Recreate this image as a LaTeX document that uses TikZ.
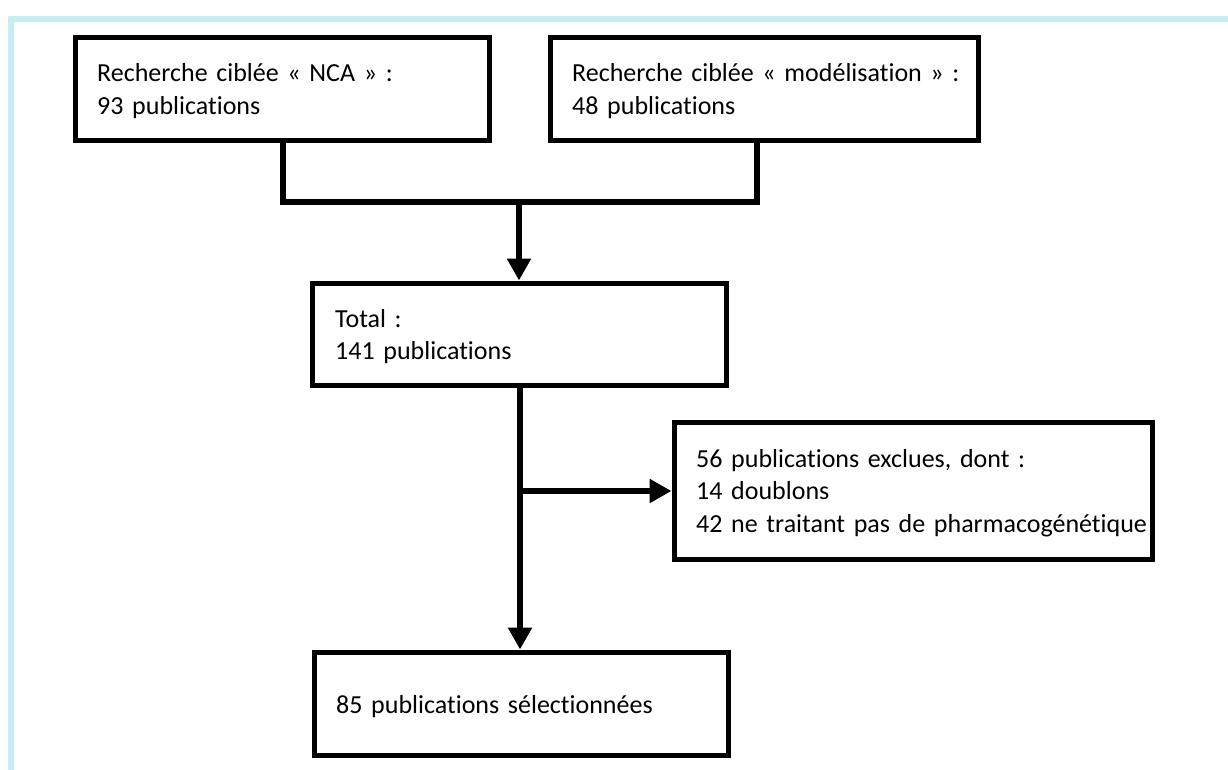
\documentclass[tikz,border=0pt]{standalone}
\usepackage{fontspec}
\setmainfont{Carlito}[Ligatures=NoCommon]
\usetikzlibrary{arrows.meta}
\definecolor{framecyan}{RGB}{197,238,243}
\begin{document}
\begin{tikzpicture}[x=1pt,y=-1pt,
  box/.style={draw=black, line width=5pt, rectangle, inner sep=0pt, fill=white},
  txt/.style={anchor=base west, inner sep=0pt, font=\fontsize{26}{32.5}\selectfont, align=left, text width=#1},
  link/.style={line width=6.5pt, line join=miter},
  arr/.style={link, -{Triangle[width=23pt,length=22pt]}}]
\useasboundingbox (0,0) rectangle (1228,770);
% page frame
\fill[framecyan] (8,16) rectangle (1228,22);
\fill[framecyan] (8,16) rectangle (14,770);

% boxes
\node[box, minimum width=413.5pt, minimum height=103pt] (nca) at (282.25,89) {};
\node[box, minimum width=428pt, minimum height=103pt] (mod) at (764,89) {};
\node[box, minimum width=414pt, minimum height=102pt] (tot) at (519,334) {};
\node[box, minimum width=478pt, minimum height=137pt] (exc) at (913,490.5) {};
\node[box, minimum width=414pt, minimum height=103pt] (sel) at (521,703.5) {};

% texts
\node[txt=500pt] (ncaT) at (97,82) {Recherche ciblée « NCA » :\\93 publications};
\node[txt=500pt] (modT) at (572,82) {Recherche ciblée « modélisation » :\\48 publications};
\node[txt=500pt] (totT) at (335,327) {Total :\\141 publications};
\node[txt=520pt] (excT) at (696,467) {56 publications exclues, dont :\\14 doublons\\42 ne traitant pas de pharmacogénétique};
\node[txt=500pt] (selT) at (336,713) {85 publications sélectionnées};

% connectors
\coordinate (join) at (519,202);
\coordinate (split) at (520,491);
\draw[link] (nca.south -| 283,0) |- (join) -| (mod.south -| 757,0);
\draw[arr] (join) -- (tot.north);
\draw[link] (tot.south -| split) -- (split);
\draw[arr] (split) -- (sel.north -| split);
\draw[arr] (split) -- (exc.west |- split);
\end{tikzpicture}
\end{document}
